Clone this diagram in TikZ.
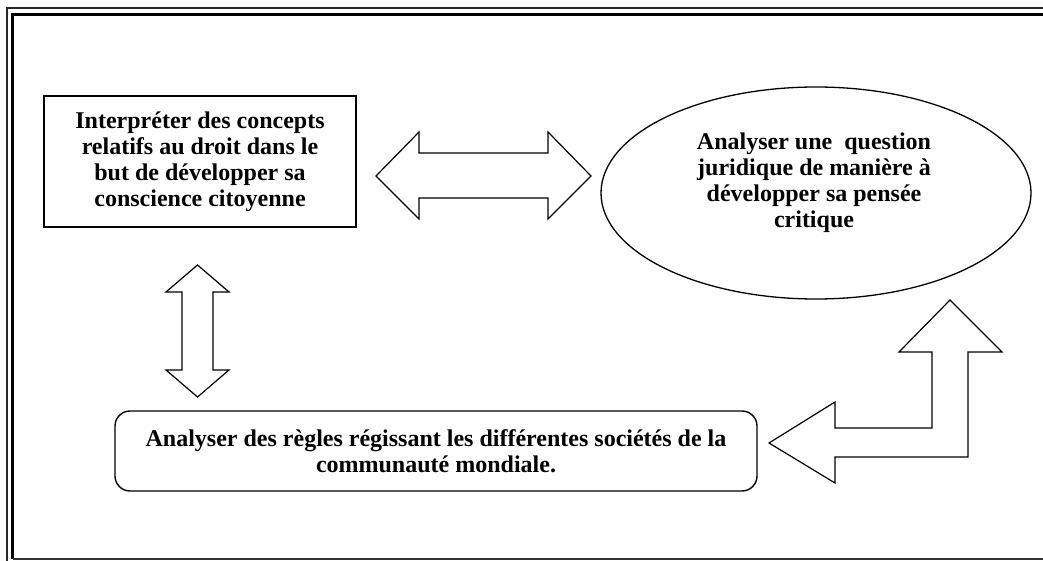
\documentclass[tikz,border=0pt]{standalone}
\usepackage{fontspec}
\setmainfont{Liberation Serif}
\usetikzlibrary{shapes.geometric}
\tikzset{
  boxtext/.style={font=\bfseries\fontsize{24}{26}\selectfont, align=center, inner sep=0pt},
  frame/.style={draw=black, line width=1.4pt},
  blockarrow/.style={draw=black, line width=1.2pt, fill=white, line join=miter},
}
\begin{document}
\begin{tikzpicture}[x=1pt,y=-1pt]
\useasboundingbox (0,0) rectangle (1043,561);
% page border
\draw[line width=1.5pt, black!85] (7,561) -- (7,8) -- (1043,8);
\draw[line width=2.6pt, black] (12.5,559) -- (12.5,14.5) -- (1043,14.5);
\draw[line width=1.5pt, black!80] (12.5,559) -- (1043,559);

% left rectangle
\node[frame, rectangle, minimum width=312pt, minimum height=131pt, inner sep=0pt] (rect) at (200,161.5) {};
\node[boxtext] (recttext) at (rect.center) {Interpréter des concepts\\relatifs au droit dans le\\but de développer sa\\conscience citoyenne};

% ellipse
\node[frame, ellipse, line width=1.3pt, minimum width=430pt, minimum height=212pt, inner sep=0pt] (ell) at (816,193) {};
\node[boxtext] (elltext) at (814,183) {Analyser une\ \ question\\juridique de manière à\\développer sa pensée\\critique};

% bottom rounded box
\node[frame, rectangle, rounded corners=15pt, minimum width=642pt, minimum height=80pt, inner sep=0pt] (bot) at (436,451) {};
\node[boxtext] (bottext) at (bot.center) {Analyser des règles régissant les différentes sociétés de la\\communauté mondiale.};

% horizontal double arrow
\draw[blockarrow] (376,176) -- (419,132) -- (419,153) -- (548,153) -- (548,132) -- (591,176)
  -- (548,219) -- (548,198) -- (419,198) -- (419,219) -- cycle;

% vertical double arrow
\draw[blockarrow] (197.5,265) -- (229,292) -- (213,292) -- (213,370) -- (229,370) -- (197.5,397)
  -- (166,370) -- (182,370) -- (182,292) -- (166,292) -- cycle;

% bent arrow
\draw[blockarrow] (950,300) -- (1002,352) -- (968,352) -- (968,457) -- (835,457) -- (835,483)
  -- (769,443) -- (835,402) -- (835,428) -- (932,428) -- (932,352) -- (899,352) -- cycle;
\end{tikzpicture}
\end{document}
